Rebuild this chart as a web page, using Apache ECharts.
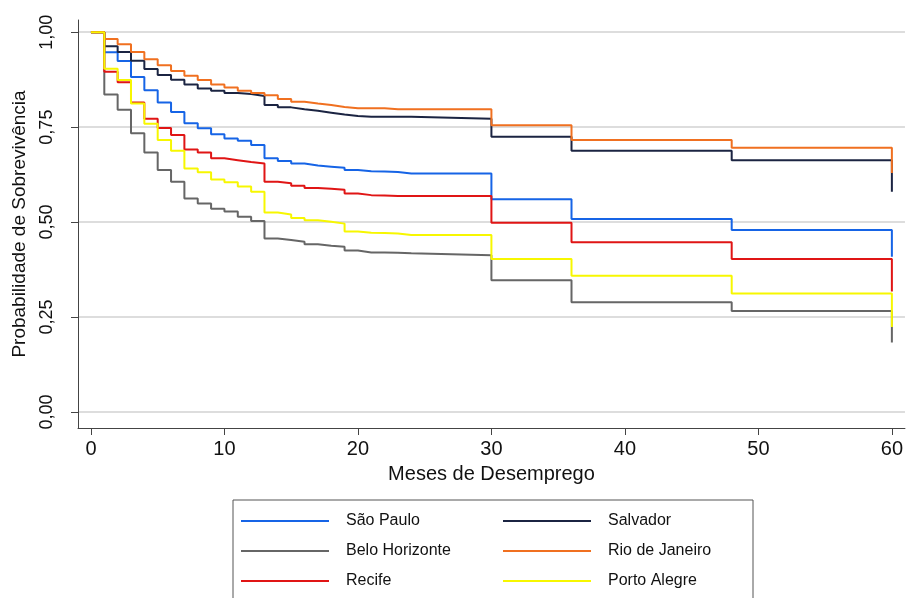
<!DOCTYPE html>
<html>
<head>
<meta charset="utf-8">
<script src="https://cdn.jsdelivr.net/npm/echarts@6/dist/echarts.min.js"></script>
<style>
  html, body { margin: 0; padding: 0; background: #fff; }
  #chart { width: 906px; height: 598px; }
</style>
</head>
<body>
<div id="chart"></div>
<script>
// meses com evento (curva de Kaplan-Meier, degraus)
var meses = [0, 1, 2, 3, 4, 5, 6, 7, 8, 9, 10, 11, 12, 13, 14, 15, 16, 17, 18, 19, 20, 21, 22, 23, 24, 30, 36, 48, 60];

var saoPaulo = [1.0, 0.947, 0.924, 0.882, 0.847, 0.815, 0.790, 0.760, 0.747, 0.731, 0.720, 0.714, 0.703, 0.668, 0.661, 0.654, 0.649, 0.646, 0.643, 0.637, 0.634, 0.633, 0.632, 0.628, 0.628, 0.560, 0.508, 0.479, 0.409];
var salvador = [1.0, 0.963, 0.948, 0.925, 0.903, 0.887, 0.875, 0.862, 0.852, 0.846, 0.840, 0.837, 0.832, 0.808, 0.802, 0.797, 0.793, 0.788, 0.783, 0.779, 0.777, 0.777, 0.777, 0.777, 0.772, 0.725, 0.688, 0.663, 0.580];
var beloHorizonte = [1.0, 0.836, 0.796, 0.734, 0.683, 0.637, 0.606, 0.562, 0.549, 0.535, 0.528, 0.514, 0.503, 0.457, 0.453, 0.448, 0.442, 0.438, 0.435, 0.425, 0.420, 0.420, 0.419, 0.418, 0.413, 0.347, 0.289, 0.266, 0.183];
var rioDeJaneiro = [1.0, 0.982, 0.968, 0.948, 0.929, 0.913, 0.898, 0.885, 0.874, 0.862, 0.854, 0.846, 0.840, 0.834, 0.824, 0.817, 0.812, 0.808, 0.803, 0.800, 0.800, 0.800, 0.797, 0.797, 0.797, 0.755, 0.716, 0.696, 0.629];
var recife = [1.0, 0.896, 0.868, 0.815, 0.772, 0.748, 0.729, 0.691, 0.683, 0.668, 0.663, 0.658, 0.654, 0.606, 0.602, 0.596, 0.590, 0.588, 0.585, 0.575, 0.571, 0.570, 0.569, 0.569, 0.569, 0.498, 0.447, 0.403, 0.317];
var portoAlegre = [1.0, 0.904, 0.874, 0.812, 0.759, 0.716, 0.688, 0.641, 0.631, 0.612, 0.605, 0.594, 0.580, 0.525, 0.520, 0.511, 0.505, 0.501, 0.496, 0.475, 0.472, 0.471, 0.470, 0.466, 0.466, 0.403, 0.359, 0.312, 0.224];

var xTicks = [0, 10, 20, 30, 40, 50, 60];
var yTicks = [0, 0.25, 0.5, 0.75, 1];

var cidades = ['São Paulo', 'Salvador', 'Belo Horizonte', 'Rio de Janeiro', 'Recife', 'Porto Alegre'];
var valores = [saoPaulo, salvador, beloHorizonte, rioDeJaneiro, recife, portoAlegre];
var cores = ['#1664e6', '#1b2442', '#666666', '#f07020', '#e01515', '#f7f700'];

var fonte = '"Liberation Sans", Arial, sans-serif';

var chart = echarts.init(document.getElementById('chart'));

var series = cidades.map(function (nome, i) {
    return {
        name: nome,
        type: 'line',
        step: 'end',
        symbol: 'none',
        color: cores[i],
        lineStyle: { width: 2, color: cores[i] },
        data: meses.map(function (m, j) { return [m, valores[i][j]]; })
    };
});

var option = {
    backgroundColor: '#fff',
    animation: false,
    grid: {
        left: 78,
        right: 0,
        top: 20,
        bottom: 170,
        containLabel: false
    },
    legend: {
        data: cidades,
        left: 233,
        top: 500,
        width: 520,
        orient: 'horizontal',
        selectedMode: false,
        icon: 'rect',
        itemWidth: 88,
        itemHeight: 2,
        itemGap: 14,
        padding: [13, 2, 14, 8],
        borderColor: '#555',
        borderWidth: 1,
        textStyle: {
            fontFamily: fonte,
            fontSize: 16,
            color: '#111',
            width: 143,
            lineHeight: 14,
            padding: [0, 0, 0, 12]
        }
    },
    xAxis: {
        type: 'value',
        min: -0.97,
        max: 60.98,
        name: 'Meses de Desemprego',
        nameLocation: 'middle',
        nameGap: 36,
        nameTextStyle: { fontFamily: fonte, fontSize: 20, color: '#111' },
        axisLine: { onZero: false, lineStyle: { color: '#444', width: 1 } },
        axisTick: { show: true, length: 7, customValues: xTicks, lineStyle: { color: '#444' } },
        axisLabel: {
            customValues: xTicks,
            fontFamily: fonte,
            fontSize: 20,
            color: '#111',
            margin: 11
        },
        splitLine: { show: false }
    },
    yAxis: {
        type: 'value',
        min: -0.042,
        max: 1.032,
        name: 'Probabilidade de Sobrevivência',
        nameLocation: 'middle',
        nameGap: 49,
        nameTextStyle: { fontFamily: fonte, fontSize: 19, color: '#111' },
        axisLine: { show: true, onZero: false, lineStyle: { color: '#444', width: 1 } },
        axisTick: { show: true, length: 7, customValues: yTicks, lineStyle: { color: '#444' } },
        axisLabel: {
            customValues: yTicks,
            rotate: 90,
            fontFamily: fonte,
            fontSize: 18,
            color: '#111',
            margin: 22,
            formatter: function (v) { return v.toFixed(2).replace('.', ','); }
        },
        splitLine: { show: true, lineStyle: { color: '#dddddd', width: 2 } }
    },
    series: series
};

chart.setOption(option);
</script>
</body>
</html>
